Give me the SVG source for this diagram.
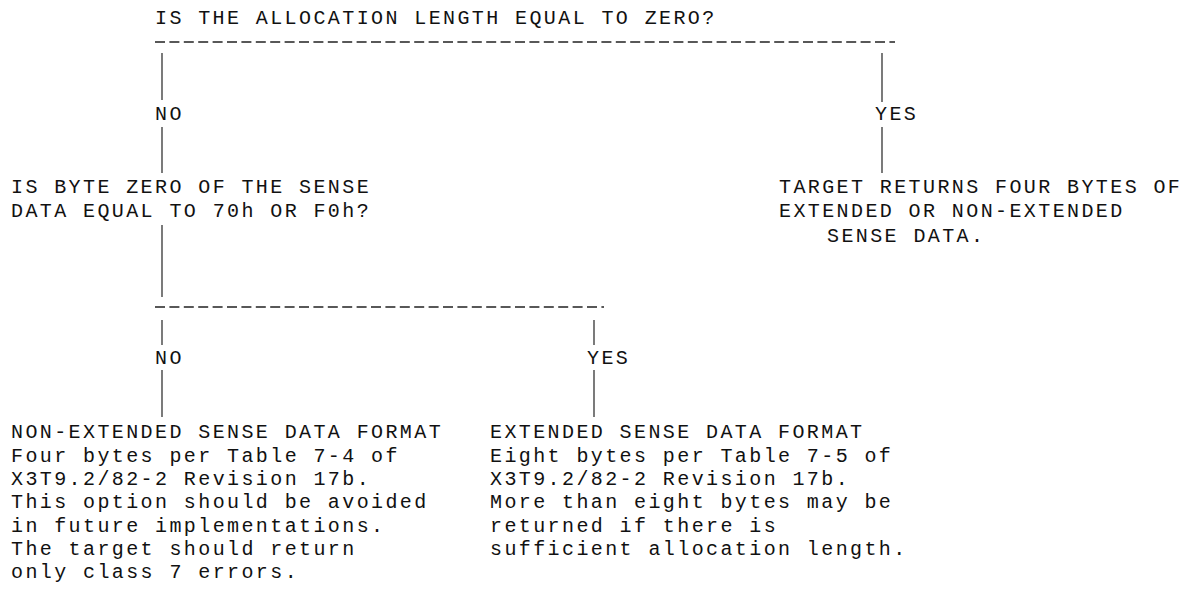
<svg xmlns="http://www.w3.org/2000/svg" width="1193" height="590" viewBox="0 0 1193 590">
<style>
text{font-family:"Liberation Mono","Courier New",monospace;font-size:20px;letter-spacing:2.4px;fill:#111;}
.c line{stroke:#333;stroke-width:1.3;}
.c line.d{stroke:#222;stroke-width:1.3;stroke-dasharray:10 4.4;}
</style>
<rect width="1193" height="590" fill="#fff"/>
<g class="c" id="connectors">
<line class="d" x1="155" y1="42" x2="895" y2="42"/>
<line x1="162" y1="53" x2="162" y2="100"/>
<line x1="162" y1="127" x2="162" y2="173"/>
<line x1="882" y1="53" x2="882" y2="102"/>
<line x1="882" y1="127" x2="882" y2="173"/>
<line x1="162" y1="225" x2="162" y2="297"/>
<line class="d" x1="155" y1="307" x2="604" y2="307"/>
<line x1="162" y1="320" x2="162" y2="345"/>
<line x1="162" y1="370" x2="162" y2="417"/>
<line x1="594" y1="320" x2="594" y2="345"/>
<line x1="594" y1="370" x2="594" y2="417"/>
</g>
<g id="q1"><text x="155" y="24">IS THE ALLOCATION LENGTH EQUAL TO ZERO?</text></g>
<g id="no1"><text x="155" y="120">NO</text></g>
<g id="yes1"><text x="875" y="120">YES</text></g>
<g id="q2"><text x="11" y="193">IS BYTE ZERO OF THE SENSE</text><text x="11" y="217">DATA EQUAL TO 70h OR F0h?</text></g>
<g id="target4"><text x="779" y="193">TARGET RETURNS FOUR BYTES OF</text><text x="779" y="217">EXTENDED OR NON-EXTENDED</text><text x="827" y="242">SENSE DATA.</text></g>
<g id="no2"><text x="155" y="364">NO</text></g>
<g id="yes2"><text x="587" y="364">YES</text></g>
<g id="nonext"><text x="11" y="438">NON-EXTENDED SENSE DATA FORMAT</text><text x="11" y="462">Four bytes per Table 7-4 of</text><text x="11" y="485">X3T9.2/82-2 Revision 17b.</text><text x="11" y="508">This option should be avoided</text><text x="11" y="532">in future implementations.</text><text x="11" y="555">The target should return</text><text x="11" y="578">only class 7 errors.</text></g>
<g id="ext"><text x="490" y="438">EXTENDED SENSE DATA FORMAT</text><text x="490" y="462">Eight bytes per Table 7-5 of</text><text x="490" y="485">X3T9.2/82-2 Revision 17b.</text><text x="490" y="508">More than eight bytes may be</text><text x="490" y="532">returned if there is</text><text x="490" y="555">sufficient allocation length.</text></g>
</svg>
